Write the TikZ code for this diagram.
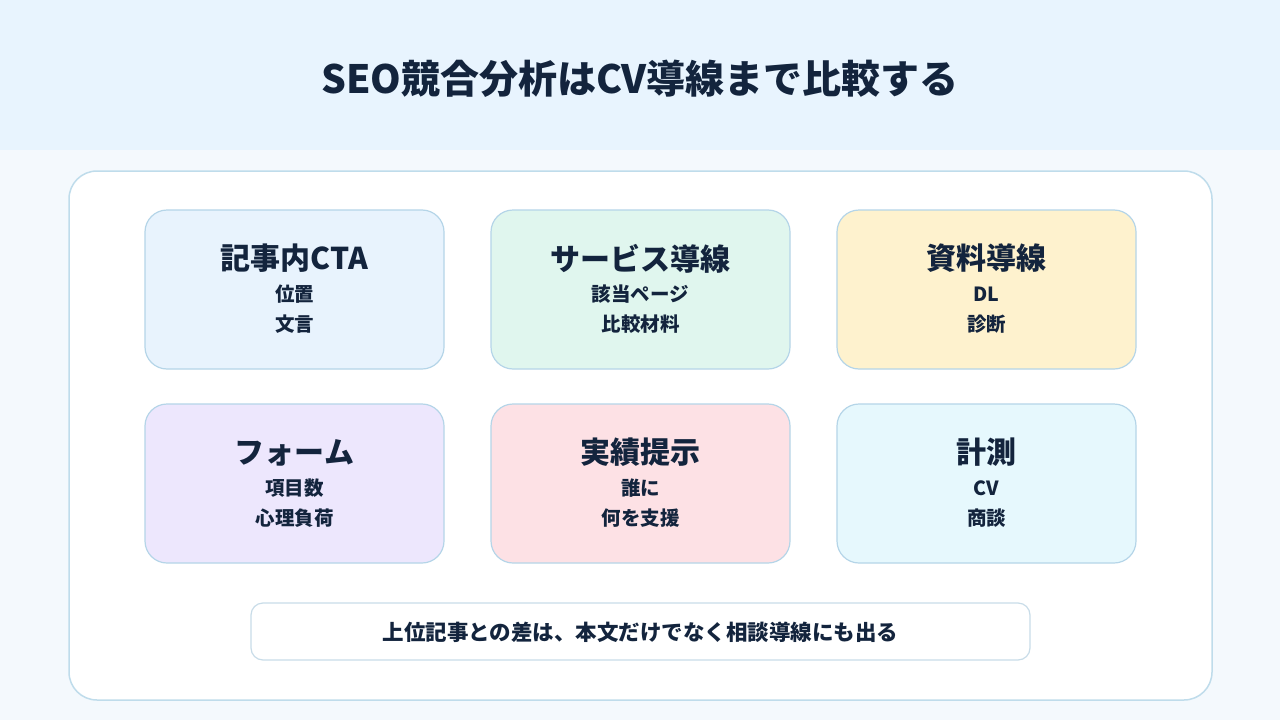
\documentclass[tikz,border=0pt]{standalone}
\usepackage{fontspec}
\setmainfont{Noto Sans CJK JP}
\definecolor{bgall}{HTML}{F4F9FD}
\definecolor{bghead}{HTML}{E8F4FE}
\definecolor{ink}{HTML}{13243D}
\definecolor{panelline}{HTML}{BFDCEB}
\definecolor{cardline}{HTML}{B5D5E8}
\definecolor{cA}{HTML}{E8F3FD}
\definecolor{cB}{HTML}{E0F6EE}
\definecolor{cC}{HTML}{FEF2CE}
\definecolor{cD}{HTML}{EDE7FD}
\definecolor{cE}{HTML}{FDE1E5}
\definecolor{cF}{HTML}{E6F8FD}
\definecolor{noteline}{HTML}{C8DCE8}
\tikzset{
  card/.style={draw=cardline, line width=1.2pt, rounded corners=22pt, minimum width=299pt, minimum height=159pt, inner sep=0pt},
  cardtitle/.style={text=ink, font=\bfseries\fontsize{30}{34}\selectfont, inner sep=0pt},
  cardsub/.style={text=ink, font=\bfseries\fontsize{19.5}{22}\selectfont, inner sep=0pt},
}
\begin{document}
\begin{tikzpicture}[x=1pt,y=-1pt]
\fill[bgall] (0,0) rectangle (1280,720);
\useasboundingbox (0,0) rectangle (1280,720);
\fill[bghead] (0,0) rectangle (1280,150);
\node[text=ink, font=\bfseries\fontsize{39}{43}\selectfont, inner sep=0pt] (title) at (640,79) {SEO競合分析はCV導線まで比較する};
\node[draw=panelline, line width=1.5pt, fill=white, rounded corners=28pt, minimum width=1143pt, minimum height=529pt] (panel) at (640.5,435.5) {};
% cards
\foreach \n/\cx/\cy/\col/\t/\a/\b in {
  a/294.5/289.5/cA/記事内CTA/位置/文言,
  b/640.5/289.5/cB/サービス導線/該当ページ/比較材料,
  c/986.5/289.5/cC/資料導線/DL/診断,
  d/294.5/483.5/cD/フォーム/項目数/心理負荷,
  e/640.5/483.5/cE/実績提示/誰に/何を支援,
  f/986.5/483.5/cF/計測/CV/商談}{
  \node[card, fill=\col] (\n) at (\cx,\cy) {};
  \node[cardtitle] (\n t) at (\cx,\cy-31) {\t};
  \node[cardsub] (\n 1) at (\cx,\cy+5) {\a};
  \node[cardsub] (\n 2) at (\cx,\cy+35) {\b};
}
\node[draw=noteline, line width=1.2pt, fill=white, rounded corners=12pt, minimum width=779pt, minimum height=57pt, inner sep=0pt] (note) at (640.5,631.5) {};
\node[text=ink, font=\bfseries\fontsize{21.5}{24}\selectfont, inner sep=0pt] (notet) at (640.5,632) {上位記事との差は、本文だけでなく相談導線にも出る};
\end{tikzpicture}
\end{document}
